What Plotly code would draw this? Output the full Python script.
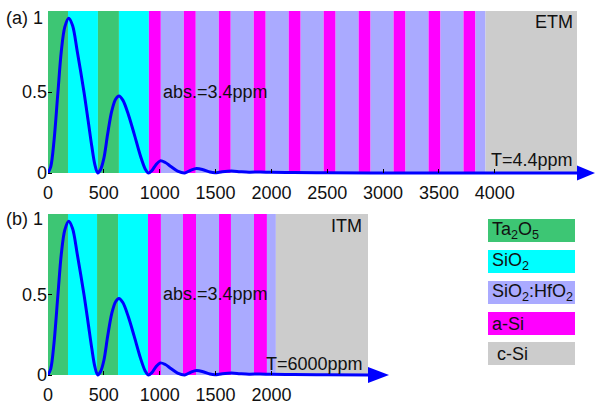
import plotly.graph_objects as go

W, H = 595, 404

# ---------------- data ----------------
# field intensity curve (position in nm, normalised |E|^2)
pos_nm = [0, 25, 54, 89, 119, 150, 185, 220, 262, 322, 360, 391, 420, 445,
          470, 500, 534, 570, 605, 635, 670, 720, 772, 830, 870, 898,
          930, 965, 1005, 1050, 1100, 1160, 1225,
          1280, 1330, 1390, 1450, 1494,
          1560, 1643, 1720, 1800, 1900, 2000, 2200, 2500, 3000, 4000, 4800]
field = [0, 0.04, 0.2, 0.5, 0.75, 0.9, 0.955, 0.91, 0.75, 0.5, 0.32, 0.17, 0.05, 0.0,
         0.02, 0.09, 0.24, 0.38, 0.455, 0.475, 0.45, 0.36, 0.24, 0.1, 0.025, 0.0,
         0.015, 0.05, 0.075, 0.065, 0.04, 0.012, 0.0,
         0.018, 0.028, 0.02, 0.006, 0.002,
         0.008, 0.012, 0.008, 0.005, 0.006, 0.004, 0.003, 0.001, 0.0005, 0.0, 0.0]

# layer stacks (material, thickness nm); substrate fills the rest
etm_materials = ["Ta2O5", "SiO2", "Ta2O5", "SiO2",
                 "aSi", "SHf", "aSi", "SHf", "aSi", "SHf", "aSi", "SHf", "aSi", "SHf",
                 "aSi", "SHf", "aSi", "SHf", "aSi", "SHf", "aSi", "SHf", "aSi", "SHf", "cSi"]
etm_thick = [179, 268, 188, 268,
             107, 206, 107, 206, 107, 206, 107, 206, 107, 206,
             107, 206, 107, 206, 107, 206, 107, 206, 107, 90, 820]
itm_materials = ["Ta2O5", "SiO2", "Ta2O5", "SiO2",
                 "aSi", "SHf", "aSi", "SHf", "aSi", "SHf", "aSi", "SHf", "cSi"]
itm_thick = [179, 260, 188, 268,
             116, 197, 117, 206, 107, 206, 116, 80, 830]

ticks_top = [0, 500, 1000, 1500, 2000, 2500, 3000, 3500, 4000]
ticks_bot = [0, 500, 1000, 1500, 2000]
y_ticks = [0, 0.5, 1]
y_ticktext = ["0", "0.5", ""]

legend_keys = ["Ta2O5", "SiO2", "SHf", "aSi", "cSi"]
legend_labels = ["Ta<sub>2</sub>O<sub>5</sub>", "SiO<sub>2</sub>",
                 "SiO<sub>2</sub>:HfO<sub>2</sub>", "a-Si", " c-Si"]

colors = {"Ta2O5": "#3DC674", "SiO2": "#00FFFF", "SHf": "#AAAAFF",
          "aSi": "#FF00FF", "cSi": "#CCCCCC"}

# ---------------- layout helpers ----------------
def px(x):
    return x / W

def py(y):
    return 1 - y / H

FONT = "Liberation Sans, Arial, sans-serif"
TXT = "#111111"
BLUE = "#0000FF"

X0 = 48
SCALE = 0.1117  # px per nm
top_right = 577
bot_right = 368
top_xmax = (top_right - X0) / SCALE
bot_xmax = (bot_right - X0) / SCALE
YMIN = -0.022

def ydom(y1px, y0px):
    per = (y0px - y1px)
    bottom_px = y0px + (-YMIN) * per
    return [py(bottom_px), py(y1px)]

fig = go.Figure()

for ax, xa in (("y", "x"), ("y2", "x2")):
    fig.add_trace(go.Scatter(x=pos_nm, y=field, mode="lines", xaxis=xa, yaxis=ax,
                             line=dict(color=BLUE, width=3, shape="spline", smoothing=0.9),
                             showlegend=False, hoverinfo="skip"))

shapes = []
def add_layers(mats, thick, xref, yref, xmax):
    edge = 0
    for m, t in zip(mats, thick):
        x1 = min(edge + t, xmax) if m != "cSi" else xmax
        shapes.append(dict(type="rect", xref=xref, yref=yref, x0=edge, x1=x1, y0=0, y1=1,
                           fillcolor=colors[m], line=dict(width=0), layer="below"))
        edge += t

add_layers(etm_materials, etm_thick, "x", "y", top_xmax)
add_layers(itm_materials, itm_thick, "x2", "y2", bot_xmax)

def arrow(base_px, yc_px, tip_px, half):
    return dict(type="path", xref="paper", yref="paper",
                path=f"M {px(base_px)} {py(yc_px - half)} L {px(tip_px)} {py(yc_px)} "
                     f"L {px(base_px)} {py(yc_px + half)} Z",
                fillcolor=BLUE, line=dict(width=0), layer="above")

shapes.append(arrow(top_right, 173, 595, 7.5))
shapes.append(arrow(bot_right, 375, 389, 8))

box_tops = [219, 250, 281, 312, 342]
annotations = []
for k, lab, t in zip(legend_keys, legend_labels, box_tops):
    shapes.append(dict(type="rect", xref="paper", yref="paper",
                       x0=px(488), x1=px(575), y0=py(t + 23), y1=py(t),
                       fillcolor=colors[k], line=dict(width=0)))
    annotations.append(dict(xref="paper", yref="paper", x=px(490), y=py(t + 11.5),
                            xanchor="left", yanchor="middle", text=lab, showarrow=False,
                            font=dict(family=FONT, size=18, color=TXT)))

def note(text, xpx, ypx, xanchor, yanchor="middle"):
    annotations.append(dict(xref="paper", yref="paper", x=px(xpx), y=py(ypx), text=text,
                            xanchor=xanchor, yanchor=yanchor, showarrow=False,
                            font=dict(family=FONT, size=18, color=TXT)))

note("(a) 1", 45, 17.5, "right")
note("(b) 1", 45, 219, "right")
note("abs.=3.4ppm", 161, 92, "left")
note("abs.=3.4ppm", 161, 294, "left")
note("ETM", 575, 22, "right")
note("ITM", 364, 226, "right")
note("T=4.4ppm", 575, 160, "right")
note("T=6000ppm", 365, 364, "right")

axis_font = dict(family=FONT, size=18, color=TXT)
common_x = dict(showgrid=False, zeroline=False, showline=False, ticks="inside", ticklen=4,
                tickcolor="black", tickwidth=1, tickfont=axis_font, anchor="free", side="bottom",
                automargin=False, ticklabelstandoff=7)
common_y = dict(showgrid=False, zeroline=False, showline=False, ticks="inside", ticklen=4,
                tickcolor="black", tickwidth=1, tickfont=axis_font, range=[YMIN, 1],
                tickvals=y_ticks, ticktext=y_ticktext, automargin=False)

fig.update_layout(
    width=W, height=H, margin=dict(l=0, r=0, t=0, b=0),
    paper_bgcolor="white", plot_bgcolor="rgba(0,0,0,0)",
    xaxis=dict(common_x, domain=[px(X0), px(top_right)], range=[0, top_xmax],
               tickvals=ticks_top, position=py(173)),
    yaxis=dict(common_y, domain=ydom(11, 173), anchor="x"),
    xaxis2=dict(common_x, domain=[px(X0), px(bot_right)], range=[0, bot_xmax],
                tickvals=ticks_bot, position=py(375)),
    yaxis2=dict(common_y, domain=ydom(214, 375), anchor="x2"),
    shapes=shapes, annotations=annotations,
)

fig.write_html("out.html", config={"displayModeBar": False},
               post_script="document.body.style.margin='0px';")
